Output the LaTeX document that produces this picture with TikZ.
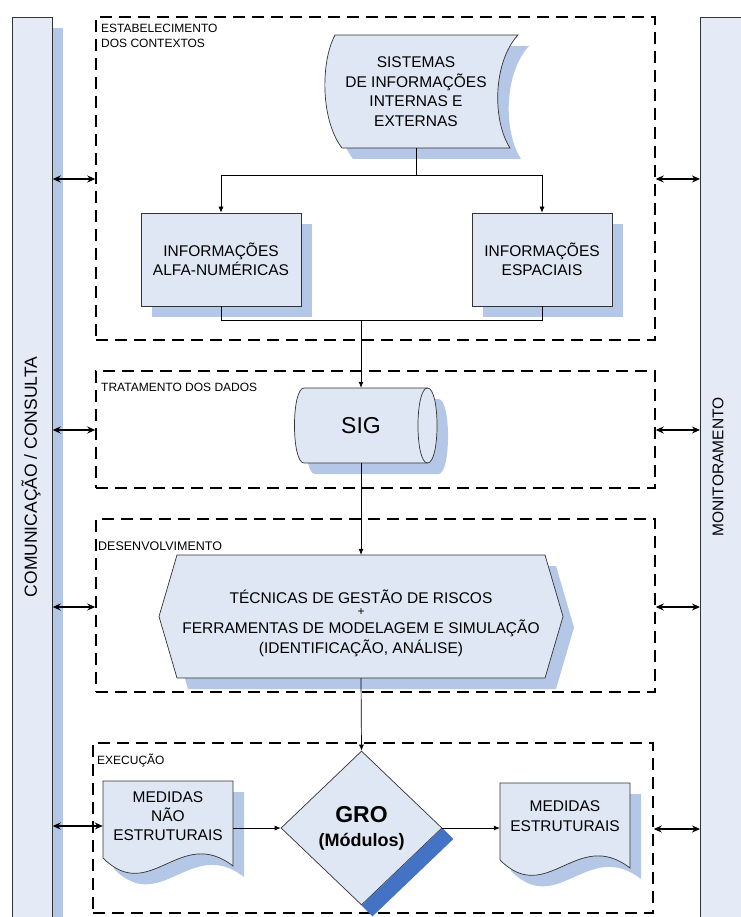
\documentclass[tikz,border=0pt]{standalone}
\usepackage{fontspec}
\setmainfont{Liberation Sans}
\usetikzlibrary{arrows.meta,shapes.geometric}
\definecolor{fillc}{RGB}{222,231,243}
\definecolor{barc}{RGB}{228,234,246}
\definecolor{shadc}{RGB}{180,199,231}
\definecolor{stripc}{RGB}{68,114,196}
\definecolor{edgec}{RGB}{50,50,50}
\begin{document}
\begin{tikzpicture}[x=1pt,y=-1pt,
  shp/.style={draw=edgec,line width=0.7pt,fill=fillc},
  txt/.style={inner sep=0pt,align=center,font=\fontsize{15.5}{19.5}\selectfont},
  dashbox/.style={draw=black,line width=1.5pt,dash pattern=on 12pt off 7pt,inner sep=0pt},
  lbl/.style={inner sep=0pt,anchor=base west,font=\fontsize{12}{15}\selectfont},
  conn/.style={draw=black,line width=0.7pt},
  arr/.style={conn,-{Latex[length=6pt,width=5pt]}},
  dbl/.style={draw=black,line width=1.4pt,{Stealth[length=8pt,width=7pt]}-{Stealth[length=8pt,width=7pt]}},
]
\useasboundingbox (0,0) rectangle (740,917);

% side bars
\fill[shadc] (23,28) rectangle (63,935);
\node[shp,fill=barc,inner sep=0pt,minimum width=40pt,minimum height=920pt,anchor=north west] (lbar) at (12,17) {};
\node[rotate=90,font=\fontsize{17.5}{19}\selectfont] (lbartxt) at (31,477) {COMUNICAÇÃO / CONSULTA};
\node[shp,fill=barc,inner sep=0pt,minimum width=50pt,minimum height=920pt,anchor=north west] (rbar) at (700,17) {};
\node[rotate=90,font=\fontsize{15.5}{19}\selectfont] (rbartxt) at (718,467) {MONITORAMENTO};

% dashed stage boxes
\node[dashbox,minimum width=559pt,minimum height=323pt] (ctx) at (375.5,178.5) {};
\node[dashbox,minimum width=559pt,minimum height=117pt] (trt) at (375.5,429.5) {};
\node[dashbox,minimum width=559pt,minimum height=173pt] (dev) at (375.5,605.5) {};
\node[dashbox,minimum width=560pt,minimum height=170pt] (exe) at (373,828) {};

\node[lbl,anchor=north west,align=left] (lctx) at (101,24.4) {ESTABELECIMENTO\\DOS CONTEXTOS};
\node[lbl] (ltrt) at (101,391) {TRATAMENTO DOS DADOS};
\node[lbl,font=\fontsize{12.5}{15}\selectfont] (ldev) at (98,550) {DESENVOLVIMENTO};
\node[lbl] (lexe) at (97,764) {EXECUÇÃO};

% SISTEMAS (stored data)
\fill[shadc] (346,46) -- (529,46) .. controls (504,73) and (503,131) .. (521,159) -- (353,159) .. controls (331.5,131) and (331.5,73) .. (346,46) -- cycle;
\path[shp] (335,35) -- (518,35) .. controls (493,62) and (492,120) .. (510,148) -- (342,148) .. controls (320.5,120) and (320.5,62) .. (335,35) -- cycle;
\node[txt,minimum width=170pt,minimum height=113pt] (sist) at (416,91.5) {SISTEMAS\\DE INFORMAÇÕES\\INTERNAS E\\EXTERNAS};

% information boxes
\fill[shadc] (152,224) rectangle (312,317);
\node[txt,shp,minimum width=160pt,minimum height=93pt] (alfa) at (221,259.5) {INFORMAÇÕES\\ALFA-NUMÉRICAS};
\fill[shadc] (483,224) rectangle (623,317);
\node[txt,shp,minimum width=140pt,minimum height=93pt] (esp) at (542,259.5) {INFORMAÇÕES\\ESPACIAIS};

% SIG cylinder
\fill[shadc] (315,399) -- (438.5,399) .. controls (451.2,399) and (451.2,474) .. (438.5,474) -- (315,474) .. controls (302.3,474) and (302.3,399) .. (315,399) -- cycle;
\path[shp] (304,388) -- (427.5,388) .. controls (440.2,388) and (440.2,463) .. (427.5,463) -- (304,463) .. controls (291.3,463) and (291.3,388) .. (304,388) -- cycle;
\draw[draw=edgec,line width=0.7pt] (427.5,388) .. controls (414.8,388) and (414.8,463) .. (427.5,463);
\node[txt,font=\fontsize{23}{26}\selectfont,minimum width=132pt,minimum height=75pt] (sig) at (361,425.5) {SIG};

% Tecnicas hexagon
\fill[shadc] (188,566) -- (556,566) -- (574,627.5) -- (556,689) -- (188,689) -- (170,627.5) -- cycle;
\path[shp] (177,555) -- (545,555) -- (563,616.5) -- (545,678) -- (177,678) -- (159,616.5) -- cycle;
\node[inner sep=0pt,minimum width=404pt,minimum height=123pt] (tec) at (361,616.5) {};
\node[txt,anchor=base] (tec1) at (361,603) {TÉCNICAS DE GESTÃO DE RISCOS};
\node[txt,anchor=base,font=\fontsize{12}{12}\selectfont] (tecp) at (361,615) {+};
\node[txt,anchor=base] (tec2) at (361,633) {FERRAMENTAS DE MODELAGEM E SIMULAÇÃO};
\node[txt,anchor=base] (tec3) at (361,653) {(IDENTIFICAÇÃO, ANÁLISE)};

% GRO diamond
\node[shape=diamond,shp,inner sep=0pt,minimum width=161pt,minimum height=154pt,align=center,font=\bfseries\fontsize{18}{24}\selectfont] (gro) at (361.5,828) {{\fontsize{23}{24}\selectfont GRO}\\(Módulos)};
\fill[stripc] (gro.east) -- ([shift={(11,11)}]gro.east) -- ([shift={(11,11)}]gro.south) -- (gro.south) -- cycle;

% documents
\fill[shadc] (114,792) -- (244,792) -- (244,877) .. controls (191,836) and (161,916) .. (114,869) -- cycle;
\path[shp] (103,781) -- (233,781) -- (233,866) .. controls (180,825) and (150,905) .. (103,858) -- cycle;
\node[txt,font=\fontsize{15.5}{19}\selectfont,minimum width=130pt,minimum height=70pt] (mne) at (168,816) {MEDIDAS\\NÃO\\ESTRUTURAIS};
\fill[shadc] (511,794) -- (641,794) -- (641,879) .. controls (588,838) and (558,918) .. (511,871) -- cycle;
\path[shp] (500,783) -- (630,783) -- (630,868) .. controls (577,827) and (547,907) .. (500,860) -- cycle;
\node[txt,font=\fontsize{15.5}{20}\selectfont,minimum width=130pt,minimum height=70pt] (me) at (565,816) {MEDIDAS\\ESTRUTURAIS};

% connectors
\coordinate (jtop) at (416,175);
\coordinate (jmid) at (361,320);
\draw[arr] (sist.south) -- (sist.south |- jtop) -| (alfa.north);
\draw[arr] (sist.south |- jtop) -| (esp.north);
\draw[conn] (alfa.south) |- (jmid);
\draw[conn] (esp.south) |- (jmid);
\draw[arr] (jmid) -- (jmid |- sig.north);
\draw[arr] (sig.south) -- (tec.north);
\draw[arr] (tec.south) -- (gro.north);
\draw[arr] (mne.east |- gro.west) -- (gro.west);
\draw[arr] (gro.east) -- (me.west |- gro.east);

% double arrows to side bars
\coordinate (yA) at (0,179);
\coordinate (yB) at (0,430);
\coordinate (yC) at (0,607);
\coordinate (yD) at (0,826);
\coordinate (yE) at (0,829);
\draw[dbl] (lbar.east |- yA) -- (ctx.west |- yA);
\draw[dbl] (lbar.east |- yB) -- (trt.west |- yB);
\draw[dbl] (lbar.east |- yC) -- (dev.west |- yC);
\draw[dbl] (lbar.east |- yD) -- (mne.west |- yD);
\draw[dbl] (ctx.east |- yA) -- (rbar.west |- yA);
\draw[dbl] (trt.east |- yB) -- (rbar.west |- yB);
\draw[dbl] (dev.east |- yC) -- (rbar.west |- yC);
\draw[dbl] (exe.east |- yE) -- (rbar.west |- yE);
\end{tikzpicture}
\end{document}
